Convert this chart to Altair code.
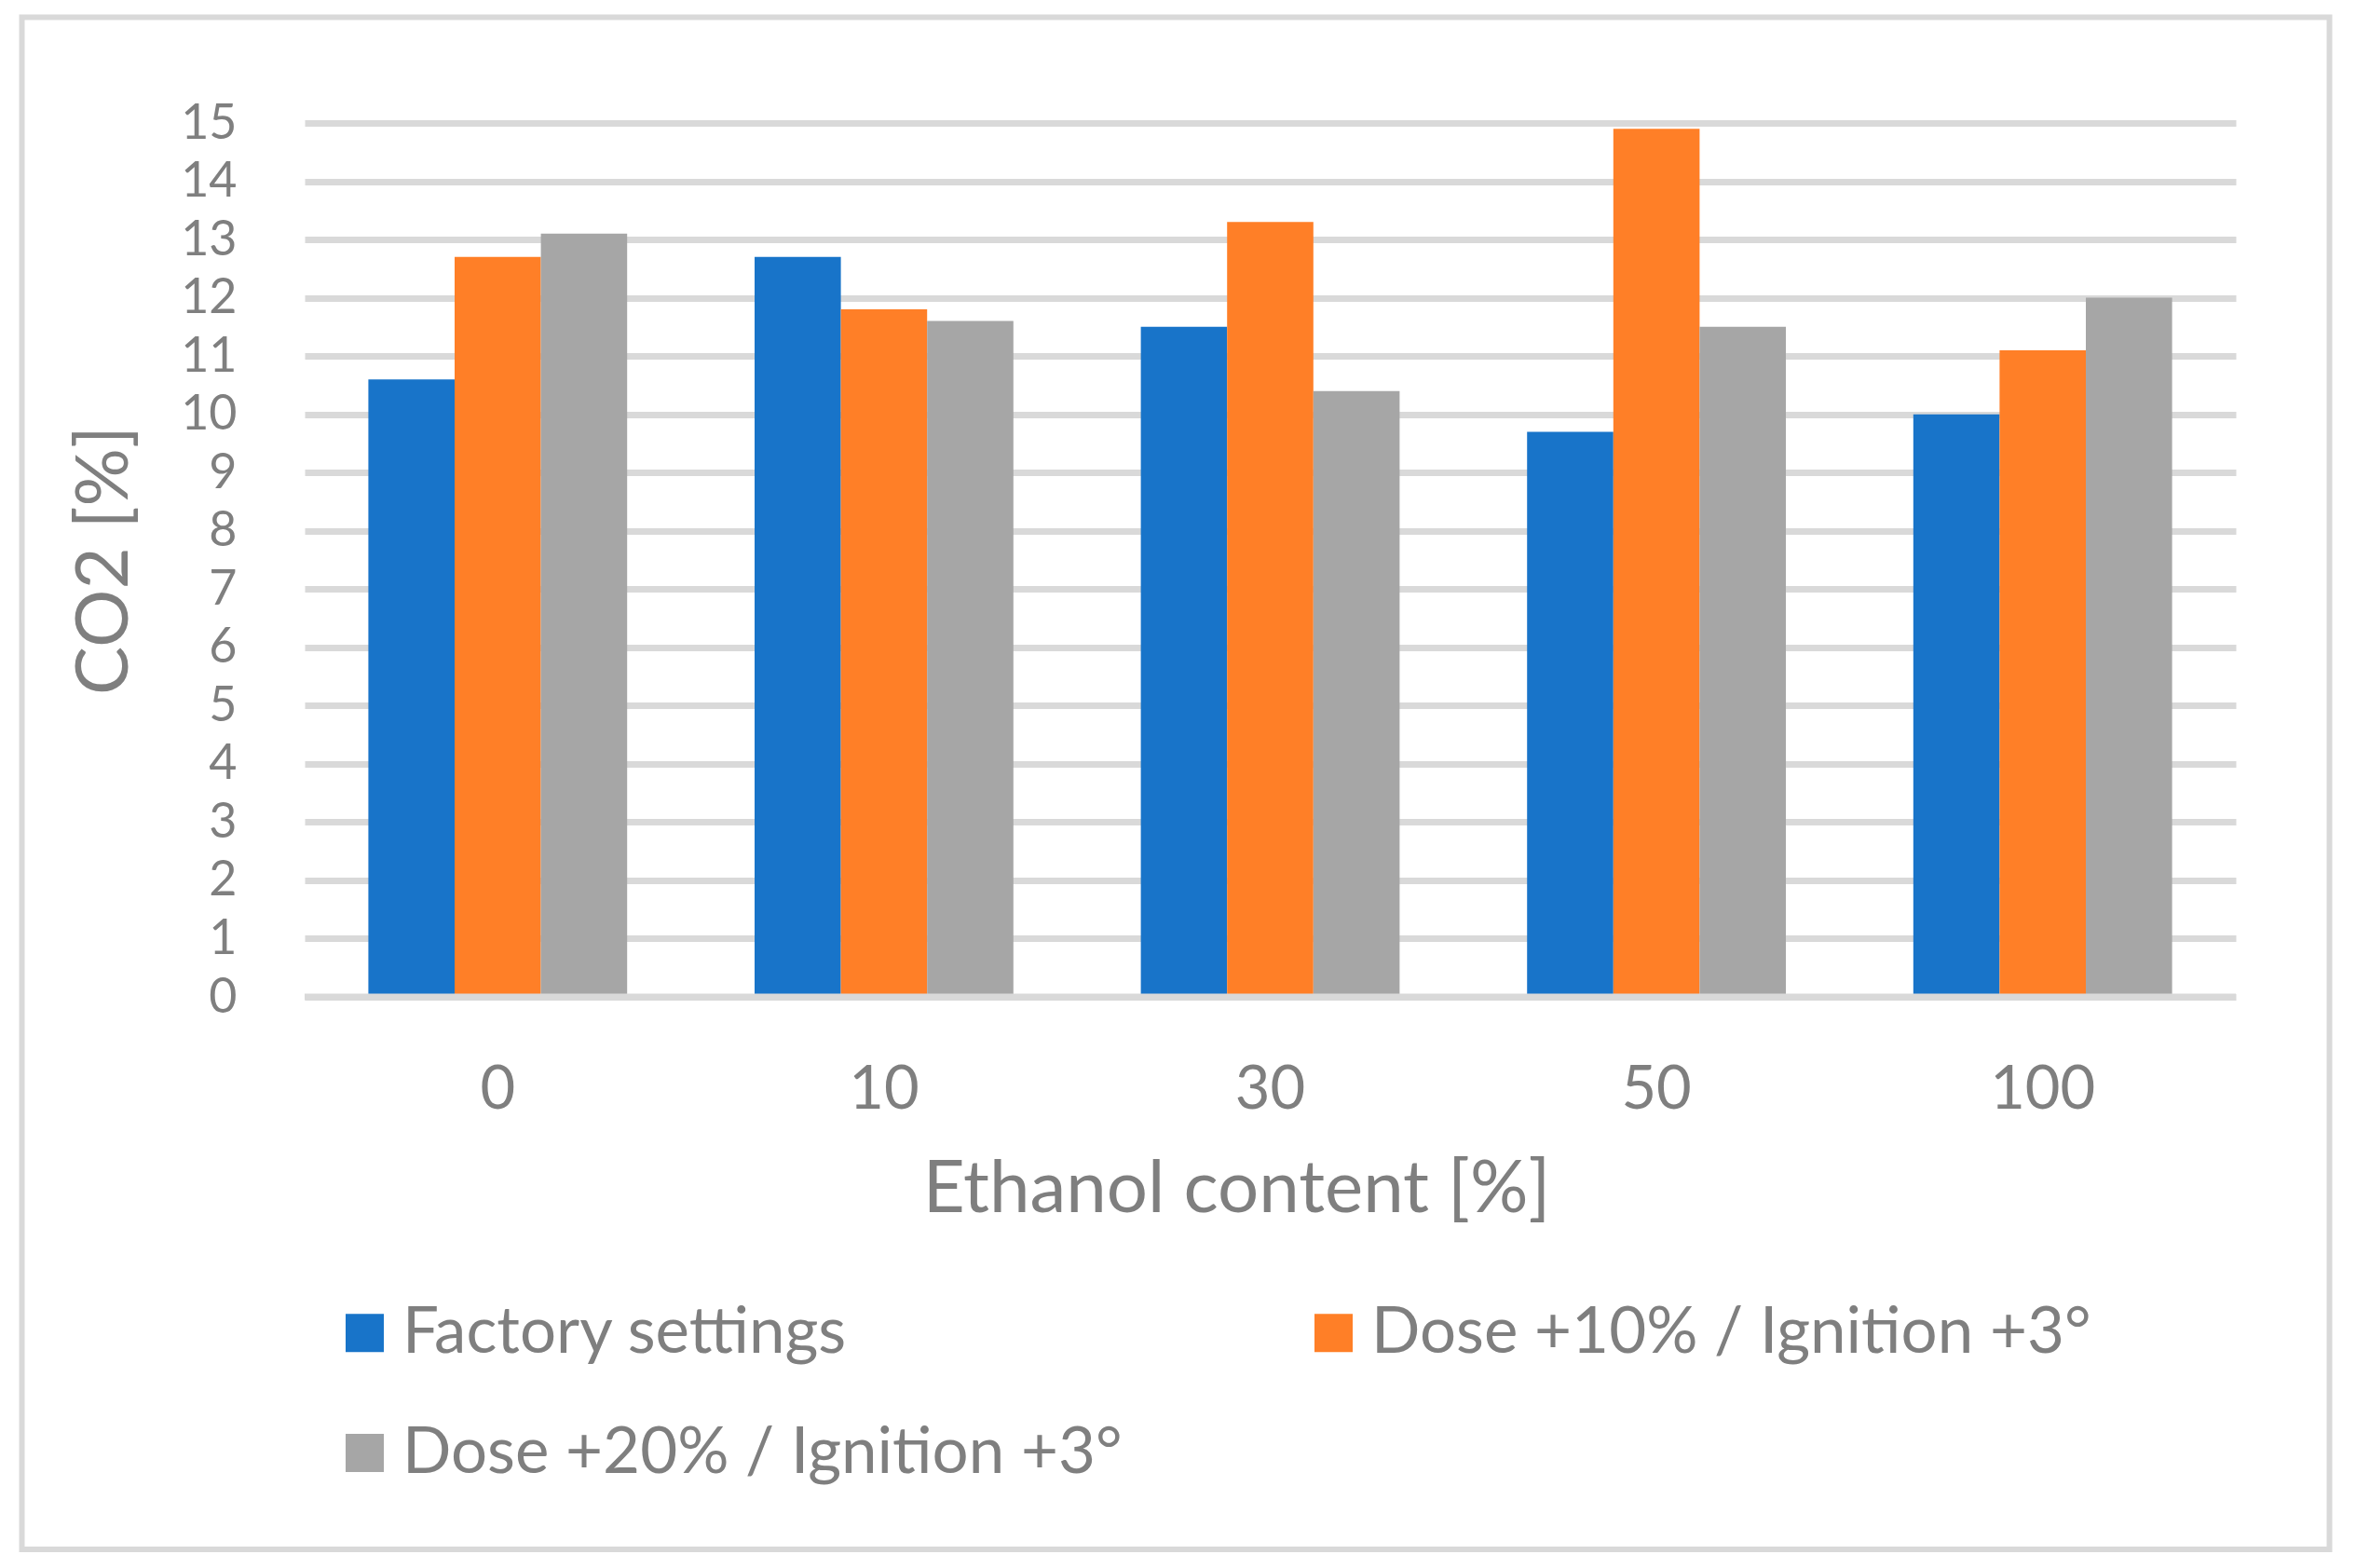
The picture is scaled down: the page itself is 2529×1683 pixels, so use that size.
import altair as alt
import pandas as pd

categories = ["0", "10", "30", "50", "100"]
series = ["Factory settings", "Dose +10% / Ignition +3°", "Dose +20% / Ignition +3°"]
factory = [10.6, 12.7, 11.5, 9.7, 10.0]
dose10 = [12.7, 11.8, 13.3, 14.9, 11.1]
dose20 = [13.1, 11.6, 10.4, 11.5, 12.0]
colors = ["#1874C9", "#FF7F27", "#A6A6A6"]
y_ticks = list(range(0, 16))

rows = []
for s, vals in zip(series, [factory, dose10, dose20]):
    for c, v in zip(categories, vals):
        rows.append({"Ethanol": c, "Series": s, "CO2": v})
df = pd.DataFrame(rows)

TXT = "#7F7F7F"
GRID = "#D9D9D9"
W, H = 2073, 938

bars = alt.Chart(df).mark_bar(stroke=None).encode(
    x=alt.X("Ethanol:N", sort=categories,
            scale=alt.Scale(paddingInner=0.33, paddingOuter=0.165),
            axis=alt.Axis(title="Ethanol content [%]", labelAngle=0, grid=False,
                          domain=False, ticks=False, tickSize=0,
                          labelFontSize=65, labelColor=TXT, labelPadding=119,
                          labelBaseline="alphabetic",
                          titleFontSize=78, titleColor=TXT, titleFontWeight="normal",
                          titleBaseline="alphabetic", titleAlign="center",
                          titleX=1000, titleY=230)),
    xOffset=alt.XOffset("Series:N", sort=series,
                        scale=alt.Scale(paddingInner=0, paddingOuter=0)),
    y=alt.Y("CO2:Q", scale=alt.Scale(domain=[0, 15], nice=False),
            axis=alt.Axis(title="CO2 [%]", values=y_ticks, format="d",
                          labelOverlap=False, grid=True,
                          gridColor=GRID, gridWidth=7, domain=False,
                          ticks=False, tickSize=0,
                          labelFontSize=52, labelColor=TXT, labelPadding=73,
                          labelBaseline="middle",
                          titleFontSize=78, titleColor=TXT, titleFontWeight="normal",
                          titleAngle=270, titleBaseline="alphabetic",
                          titleAlign="center", titleX=-191, titleY=469)),
    color=alt.Color("Series:N", sort=series,
                    scale=alt.Scale(domain=series, range=colors),
                    legend=alt.Legend(orient="none", legendX=30, legendY=1264,
                                      direction="horizontal",
                                      columns=2, columnPadding=192, rowPadding=59,
                                      symbolType="square", symbolSize=1681,
                                      symbolStrokeWidth=0, symbolOpacity=1,
                                      labelFontSize=69, labelColor=TXT,
                                      labelLimit=3000, labelOffset=6,
                                      title=None, padding=0)),
)

baseline = alt.Chart(pd.DataFrame({"v": [0]})).mark_rule(
    color=GRID, strokeWidth=7).encode(y=alt.Y("v:Q"))

border = alt.Chart(pd.DataFrame({"a": [0]})).mark_rect(
    fill=None, fillOpacity=0, stroke=GRID, strokeWidth=6).encode(
    x=alt.value(-303.5), x2=alt.value(2173.5),
    y=alt.value(-113.5), y2=alt.value(1531))

chart = alt.layer(bars, baseline, border).properties(
    width=W, height=H,
    padding={"left": 319, "top": 124, "right": 121, "bottom": 605},
    autosize=alt.AutoSizeParams(type="none"),
    background="white",
).configure(font="Lato").configure_view(stroke=None)

chart.save("out.html", embed_options={"renderer": "svg", "actions": False})
